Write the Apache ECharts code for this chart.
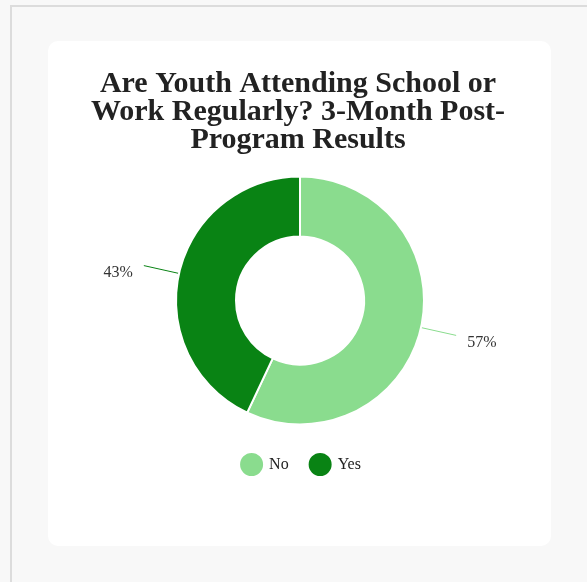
<!DOCTYPE html>
<html>
<head>
<meta charset="utf-8">
<script src="https://cdn.jsdelivr.net/npm/echarts@6/dist/echarts.min.js"></script>
<style>
  html, body { margin: 0; padding: 0; width: 587px; height: 582px; overflow: hidden; background: #f8f8f8; }
  #frame { position: absolute; left: 10px; top: 5px; right: 0; bottom: 0;
           border-left: 2px solid #dcdcdc; border-top: 2px solid #dcdcdc; background: #f8f8f8; }
  #card { position: absolute; left: 48px; top: 41px; width: 503px; height: 505px;
          background: #ffffff; border-radius: 10px; }
  #chart { position: absolute; left: 0; top: 0; width: 503px; height: 505px; }
</style>
</head>
<body>
<div id="frame"></div>
<div id="card"><div id="chart"></div></div>
<script>
// Survey answers and their shares (percent)
const categories = ['No', 'Yes'];
const shares = [57, 43];
const sliceColors = ['#8adc8e', '#098314'];
const titleText = 'Are Youth Attending School or\nWork Regularly? 3-Month Post-\nProgram Results';

const serif = "'Liberation Serif', 'Times New Roman', 'DejaVu Serif', serif";

const chart = echarts.init(document.getElementById('chart'), null, { renderer: 'canvas' });

chart.setOption({
  backgroundColor: 'transparent',
  animation: false,
  color: sliceColors,
  title: {
    text: titleText,
    left: 245,
    textAlign: 'center',
    top: 24,
    textStyle: {
      fontFamily: serif,
      fontWeight: 'bold',
      fontSize: 30,
      lineHeight: 28,
      color: '#222222'
    }
  },
  legend: {
    data: categories,
    left: 'center',
    top: 405,
    icon: 'circle',
    itemWidth: 25,
    itemHeight: 25,
    itemGap: 18,
    textStyle: { fontFamily: serif, fontSize: 16, color: '#222222' }
  },
  series: [{
    type: 'pie',
    center: [252, 259.5],
    radius: [64, 124],
    startAngle: 90,
    clockwise: true,
    itemStyle: { borderColor: '#ffffff', borderWidth: 2 },
    label: {
      show: true,
      position: 'outside',
      formatter: '{c}%',
      fontFamily: serif,
      fontSize: 16,
      color: '#333333',
      distanceToLabelLine: 11
    },
    labelLine: { show: true, length: 36, length2: 0, smooth: false, lineStyle: { width: 1 } },
    // labels sit slightly below the end of their leader lines
    labelLayout: { dy: 7 },
    emphasis: { disabled: true },
    data: categories.map((name, i) => ({ name: name, value: shares[i] }))
  }]
});
</script>
</body>
</html>
